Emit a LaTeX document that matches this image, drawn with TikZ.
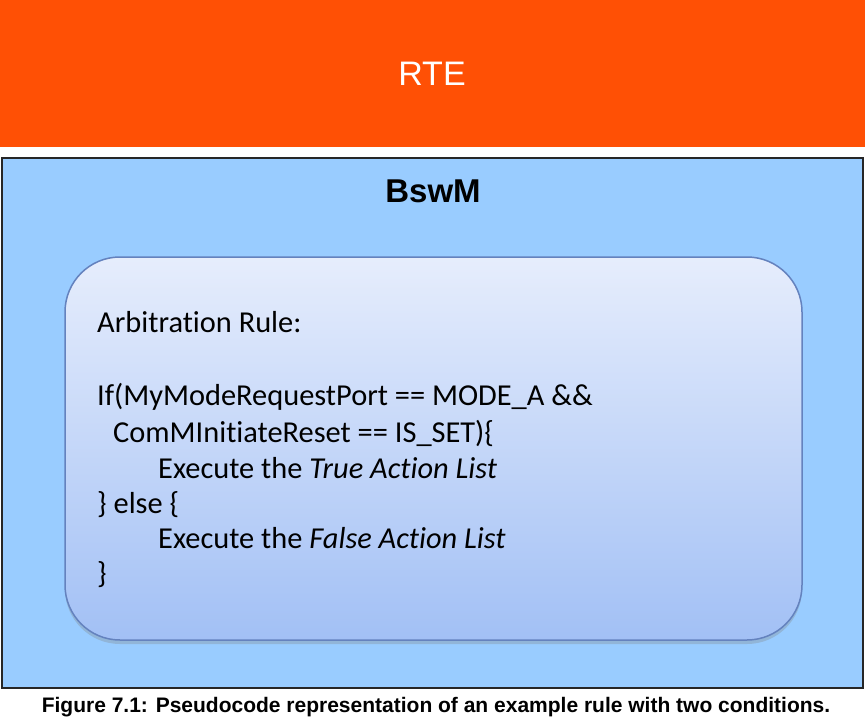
\documentclass[tikz,border=0pt]{standalone}
\usepackage{fontspec}
\setmainfont{Liberation Sans}
\newfontfamily\codefont[Ligatures=NoCommon]{Carlito}
\usetikzlibrary{shadows}
\definecolor{rteorange}{RGB}{255,80,5}
\definecolor{bswblue}{RGB}{153,204,255}
\definecolor{ruletop}{RGB}{230,237,252}
\definecolor{rulebot}{RGB}{162,192,245}
\definecolor{ruleline}{RGB}{100,130,190}

\begin{document}
\begin{tikzpicture}[x=1pt,y=-1pt,inner sep=0pt,
  title/.style={anchor=base,font=\fontsize{34}{40}\selectfont},
  rulebox/.style={rounded corners=55pt,draw=ruleline,line width=1.5pt,top color=ruletop,bottom color=rulebot,
    drop shadow={shadow xshift=0pt,shadow yshift=-4pt,opacity=0.3},minimum width=737pt,minimum height=383pt},
  codeline/.style={anchor=base west,font=\codefont\fontsize{30.4}{36}\selectfont}]
\useasboundingbox (0,0) rectangle (867,723);
\fill[rteorange] (0,0) rectangle (865,147);
\node[title,text=white] (rte) at (432,85) {RTE};
\draw[line width=2.5pt,draw=black!85,fill=bswblue] (2,158) rectangle (863,688);
\node[title,font=\bfseries\fontsize{33}{39}\selectfont] (bswm) at (433,202) {BswM};
\node[rulebox] (rule) at (433.5,448.5) {};
% pseudocode, one node per line
\foreach \i/\x/\y/\t in {1/97/332/{Arbitration Rule:},
    2/97/405/{If(MyModeRequestPort == MODE\_A \&\&},
    3/113/442/{ComMInitiateReset == IS\_SET)\{},
    4/158/478/{Execute the \textit{True Action List}},
    5/97/513/{\} else \{},
    6/158/548/{Execute the \textit{False Action List}},
    7/97/583/{\}}}{\node[codeline] (line\i) at (\x,\y) {\t};}
\node[anchor=base,font=\bfseries\fontsize{21}{25}\selectfont] (caption) at (436,712)
  {Figure 7.1: Pseudocode representation of an example rule with two conditions.};
\end{tikzpicture}
\end{document}
